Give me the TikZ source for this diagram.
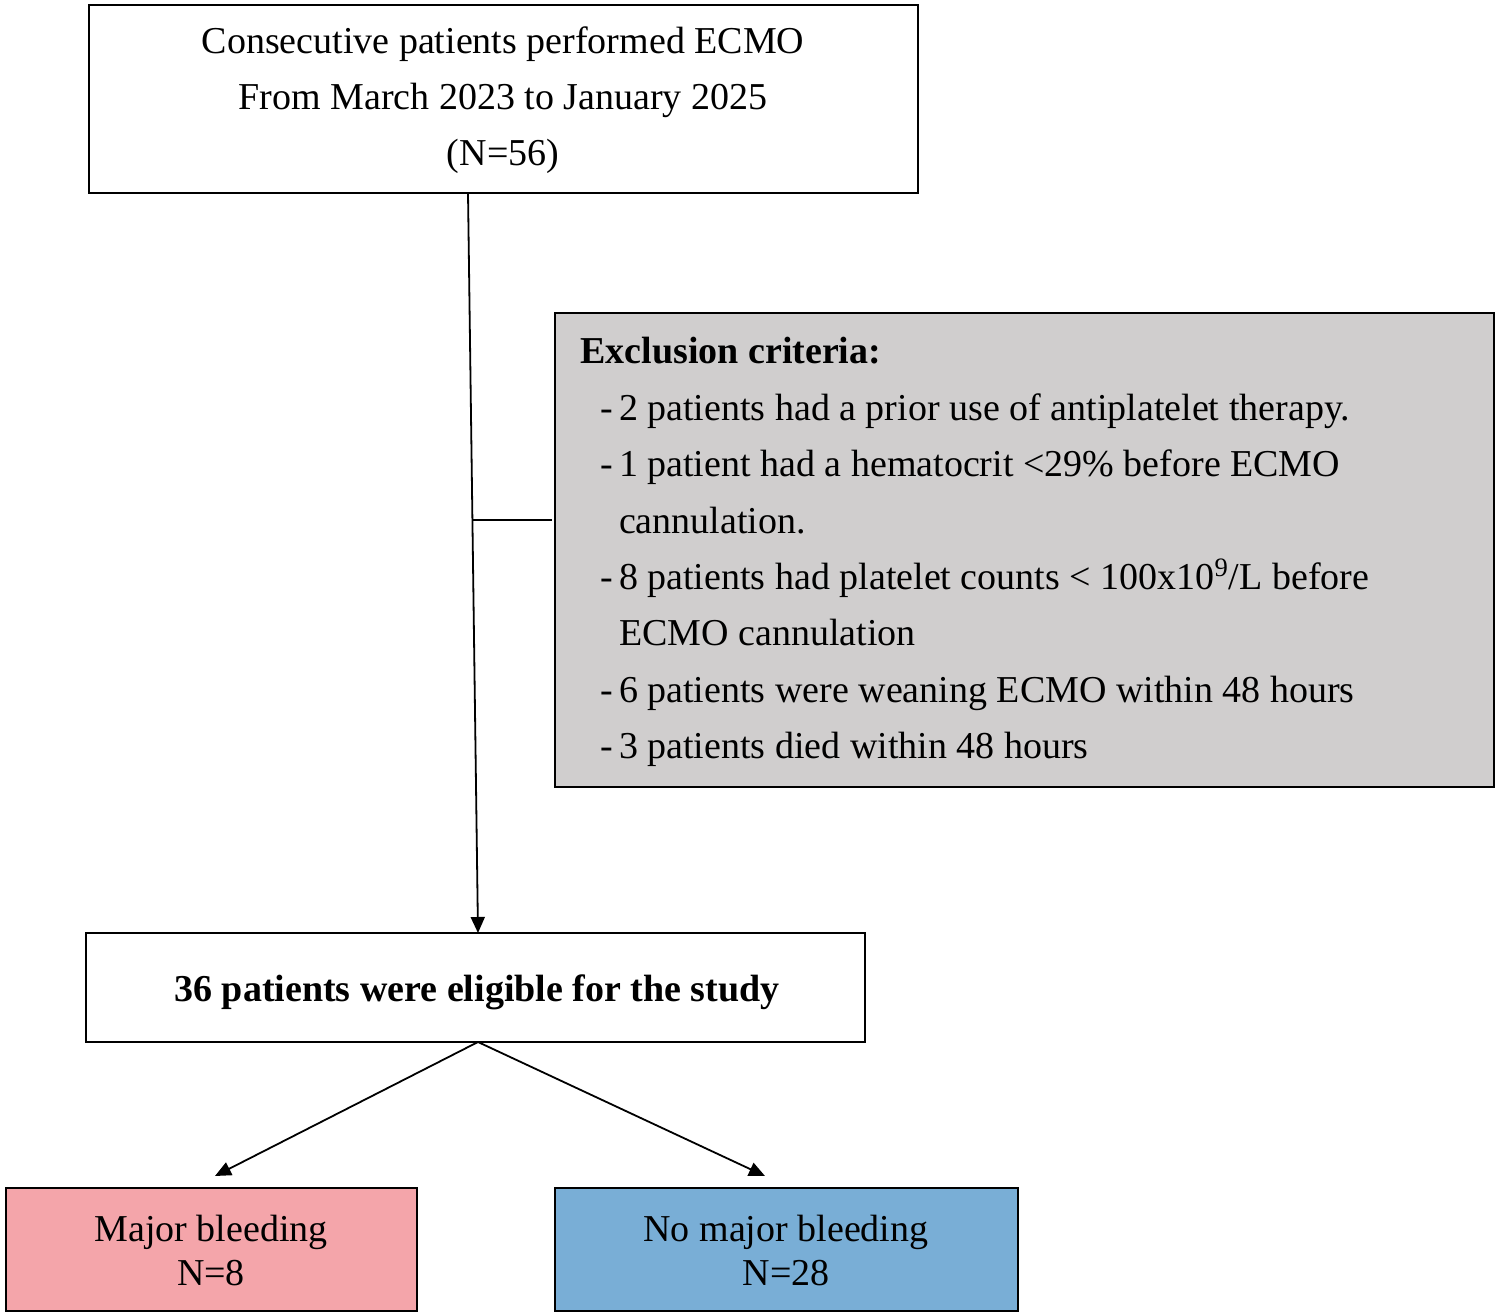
\documentclass[tikz,border=0pt]{standalone}
\usepackage{fontspec}
\setmainfont{Liberation Serif}
\usetikzlibrary{arrows.meta}
\definecolor{exgray}{HTML}{D0CECE}
\definecolor{pinkb}{HTML}{F4A5AA}
\definecolor{blueb}{HTML}{79AED6}
\begin{document}
\begin{tikzpicture}[x=0.5pt,y=-0.5pt,
  box/.style={draw=black,line width=1.2pt,inner sep=0pt},
  txt/.style={font=\fontsize{19}{28}\selectfont,align=center,inner sep=0pt},
  arr/.style={line width=0.9pt,-{Triangle[length=8pt,width=7pt]}}]
\useasboundingbox (0,0) rectangle (1499,1316);
\draw[box] (89,5) rectangle (918,193);
\node[txt] (top) at (503,100) {Consecutive patients performed ECMO\\From March 2023 to January 2025\\(N=56)};
\coordinate (tb) at (468,193);
\draw[box,fill=exgray] (555,313) rectangle (1494,787);
\node[inner sep=0pt,anchor=north west,font=\fontsize{19}{28.2}\selectfont] (ex) at (580,324) {%
\begin{tabular}{@{}r@{\hspace{3pt}}l@{}}
\multicolumn{2}{@{}l}{\textbf{Exclusion criteria:}}\\
\hspace{10pt}-&2 patients had a prior use of antiplatelet therapy.\\
-&1 patient had a hematocrit <29\% before ECMO\\
&cannulation.\\
-&8 patients had platelet counts < 100x10\textsuperscript{9}/L before\\
&ECMO cannulation\\
-&6 patients were weaning ECMO within 48 hours\\
-&3 patients died within 48 hours
\end{tabular}};
\coordinate (exl) at (552,520);
\coordinate (jn) at (473,520);
\draw[box] (86,933) rectangle (865,1042);
\node[txt,font=\fontsize{19}{28}\selectfont\bfseries] (el) at (477,992) {36 patients were eligible for the study};
\coordinate (eltop) at (478,933);
\coordinate (elb) at (478,1042);
\draw[box,fill=pinkb] (6,1188) rectangle (417,1311);
\node[txt,font=\fontsize{19}{22}\selectfont] (mb) at (211,1250) {Major bleeding\\N=8};
\draw[box,fill=blueb] (555,1188) rectangle (1018,1311);
\node[txt,font=\fontsize{19}{22}\selectfont] (nb) at (786,1250) {No major bleeding\\N=28};
\coordinate (mbt) at (215,1176);
\coordinate (nbt) at (765,1176);
\draw[arr] (tb) -- (eltop);
\draw[line width=0.9pt] (jn) -- (exl);
\draw[arr] (elb) -- (mbt);
\draw[arr] (elb) -- (nbt);
\end{tikzpicture}
\end{document}
